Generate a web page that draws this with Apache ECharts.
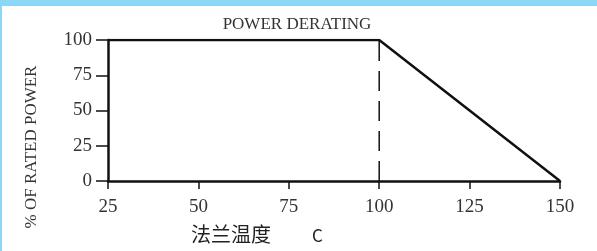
<!DOCTYPE html>
<html lang="en">
<head>
    <meta charset="UTF-8">
    <title>Power Derating</title>
    <style>
        html,body{
            margin:0;
            padding:0;
            background:#fff;
        }
        .frame{
            width:595px;
            height:245px;
            border-top:6px solid #8ad7f6;
            border-left:2px solid #8ad7f6;
            position:relative;
        }
        #chart{
            position:absolute;
            left:-2px;
            top:-6px;
            width:597px;
            height:251px;
        }
    </style>
</head>
<body>
    <div class="frame"><div id="chart"></div></div>

    <script src="https://cdn.jsdelivr.net/npm/echarts@6/dist/echarts.min.js"></script>
    <script>
        // temperature (C) vs % of rated power
        let temps = [25, 100, 150]
        let power = [100, 100, 0]
        let kneeTemp = 100
        let xTicks = [25, 50, 75, 100, 125, 150]
        let yTicks = [0, 25, 50, 75, 100]

        let serif = '"Liberation Serif", "DejaVu Serif", serif'
        let chart = echarts.init(document.getElementById('chart'))

        let curve = temps.map((t, i) => [t, power[i]])
        let knee = [[kneeTemp, yTicks[0]], [kneeTemp, yTicks[yTicks.length - 1]]]

        let option = {
            animation:false,
            grid:{
                left:108,
                right:37,
                top:40,
                bottom:70
            },
            xAxis:{
                type:'value',
                min:xTicks[0],
                max:xTicks[xTicks.length - 1],
                interval:25,
                axisLine:{lineStyle:{color:'#111', width:2.5}},
                axisTick:{show:true, length:8, lineStyle:{color:'#111', width:1.5}},
                splitLine:{show:false},
                axisLabel:{
                    margin:17,
                    fontFamily:serif,
                    fontSize:19,
                    color:'#333'
                }
            },
            yAxis:{
                type:'value',
                min:yTicks[0],
                max:yTicks[yTicks.length - 1],
                interval:25,
                axisLine:{show:true, lineStyle:{color:'#111', width:2.5}},
                axisTick:{show:true, length:12, lineStyle:{color:'#111', width:1.5}},
                splitLine:{show:false},
                axisLabel:{
                    margin:16,
                    fontFamily:serif,
                    fontSize:19,
                    color:'#333'
                }
            },
            graphic:[
                {
                    type:'text',
                    x:297,
                    y:25,
                    style:{
                        text:'POWER DERATING',
                        font:'17px "Liberation Serif", serif',
                        fill:'#333',
                        textAlign:'center',
                        textVerticalAlign:'middle'
                    }
                },
                {
                    type:'text',
                    x:32,
                    y:147,
                    rotation:Math.PI / 2,
                    style:{
                        text:'% OF RATED POWER',
                        font:'17px "Liberation Serif", serif',
                        fill:'#333',
                        textAlign:'center',
                        textVerticalAlign:'middle'
                    }
                },
                {
                    type:'text',
                    left:191,
                    top:224,
                    style:{
                        text:'法兰温度',
                        font:'20px "Noto Sans CJK SC", sans-serif',
                        fill:'#222'
                    }
                },
                {
                    type:'text',
                    left:312,
                    top:227,
                    style:{
                        text:'C',
                        font:'17px "Noto Sans CJK SC", sans-serif',
                        fill:'#222'
                    }
                }
            ],
            series:[
                {
                    type:'line',
                    data:knee,
                    symbol:'none',
                    lineStyle:{color:'#111', width:1.5, type:[20, 10]}
                },
                {
                    type:'line',
                    data:curve,
                    symbol:'none',
                    lineStyle:{color:'#111', width:2.5}
                }
            ]
        }
        chart.setOption(option)
    </script>
</body>
</html>
